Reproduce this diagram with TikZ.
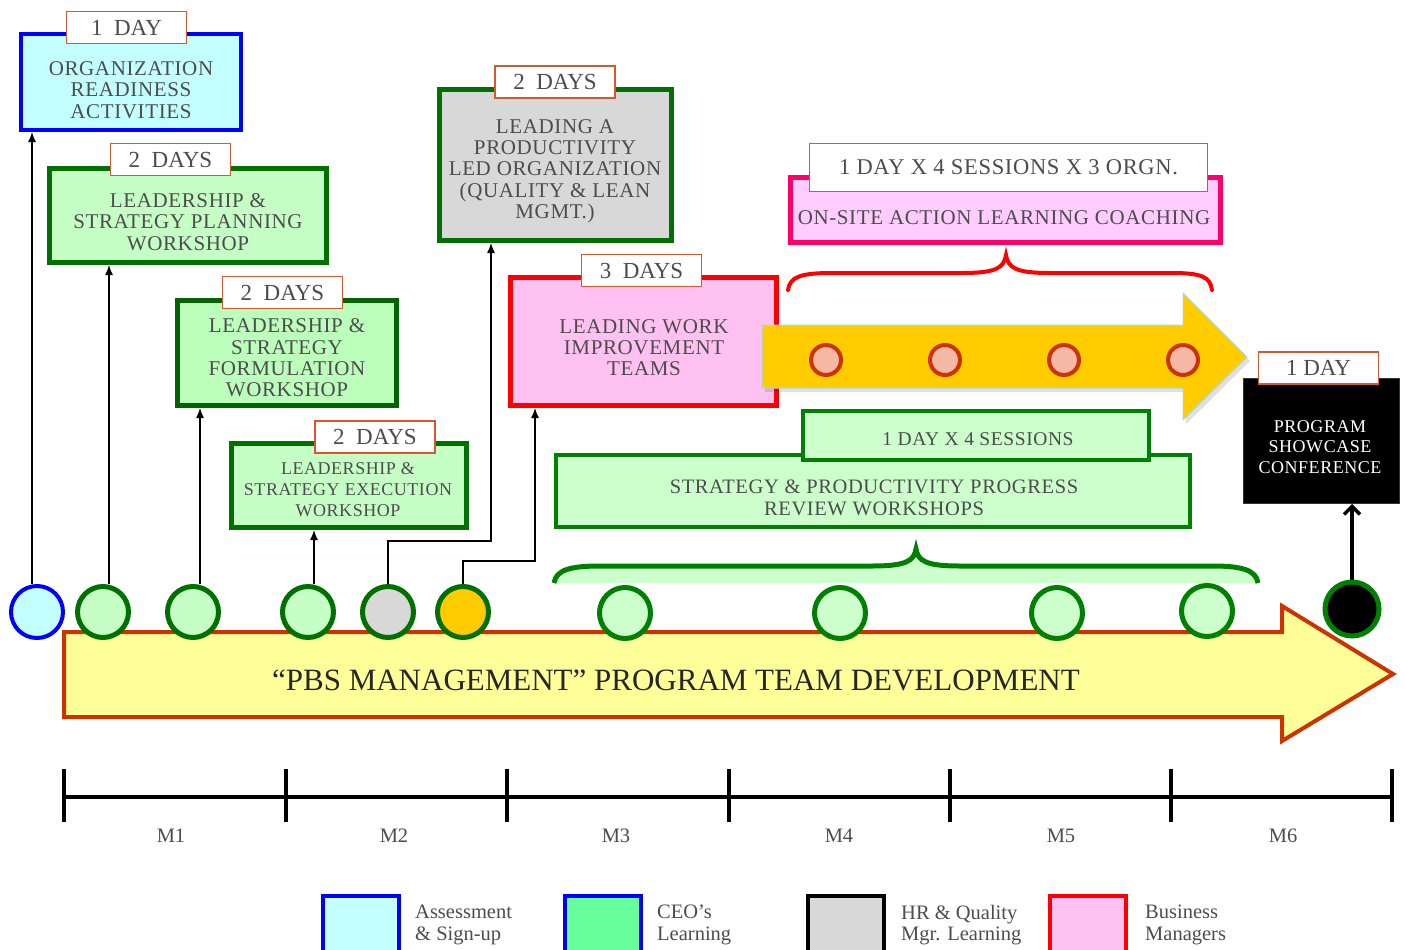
\documentclass[tikz,border=0pt]{standalone}
\usepackage{fontspec}
\setmainfont{Liberation Serif}
\newfontfamily\capsfont[LetterSpace=3]{Liberation Serif}
\usetikzlibrary{arrows.meta}

\definecolor{ink}{HTML}{4C4C4C}
\definecolor{blueline}{HTML}{0000FF}
\definecolor{cyanfill}{HTML}{C4FFFF}
\definecolor{dkgreen}{HTML}{007000}
\definecolor{ltgreen}{HTML}{C6FFC6}
\definecolor{midgreen}{HTML}{008000}
\definecolor{palegreen}{HTML}{CCFFCC}
\definecolor{greyfill}{HTML}{D8D8D8}
\definecolor{pinkfill}{HTML}{FFC0F2}
\definecolor{coachline}{HTML}{FF0066}
\definecolor{coachfill}{HTML}{FFCCFF}
\definecolor{tagline}{HTML}{D9572E}
\definecolor{gold}{HTML}{FFCC00}
\definecolor{goldedge}{HTML}{A8D8E8}
\definecolor{rust}{HTML}{CC3300}
\definecolor{salmon}{HTML}{F4B8A4}
\definecolor{lemon}{HTML}{FFFF99}
\definecolor{mint}{HTML}{66FF99}

\begin{document}
\begin{tikzpicture}[x=1pt, y=-1pt,
  box/.style={rectangle, inner sep=0pt, line width=5pt, draw=dkgreen, fill=ltgreen},
  tag/.style={rectangle, draw=tagline, fill=white, line width=1.5pt,
    minimum width=120pt, minimum height=32pt, inner sep=0pt, text=ink,
    font=\fontsize{23}{24}\selectfont},
  btext/.style={inner sep=0pt, text=ink, align=center,
    font=\capsfont\fontsize{21}{21.3}\selectfont},
  dot/.style={circle, inner sep=0pt, line width=5pt, draw=dkgreen, fill=ltgreen,
    minimum size=51pt},
  session/.style={circle, inner sep=0pt, line width=4pt, draw=rust, fill=salmon,
    minimum size=30pt},
  conn/.style={line width=1.3pt, -{Latex[length=10pt,width=8pt]}},
  legbox/.style={rectangle, inner sep=0pt, line width=4pt,
    minimum width=76pt, minimum height=56pt},
  legtext/.style={anchor=west, inner sep=0pt, text=ink, align=left,
    font=\fontsize{20.5}{21.5}\selectfont},
  mlabel/.style={inner sep=0pt, text=ink, font=\fontsize{20.5}{22}\selectfont},
]
\useasboundingbox (0,0) rectangle (1405,950);
\clip (0,0) rectangle (1405,950);

% main program arrow
\draw[line width=4pt, draw=rust, fill=lemon, line join=miter]
  (64,632) -- (1282,632) -- (1282,606) -- (1393,674) -- (1282,741)
  -- (1282,717) -- (64,717) -- cycle;
\node[inner sep=0pt, text=black!85, font=\fontsize{31}{33}\selectfont] (prog)
  at (676,680) {“PBS MANAGEMENT” PROGRAM TEAM DEVELOPMENT};

% brace over the review sessions
\fill[palegreen] (554,583) .. controls (556,570) and (570,566) .. (600,566)
  -- (872,566) .. controls (906,566) and (914,561) .. (916,549)
  .. controls (918,561) and (926,566) .. (960,566) -- (1212,566)
  .. controls (1242,566) and (1256,570) .. (1258,583) -- cycle;
\draw[line width=5pt, midgreen] (554,583) .. controls (556,570) and (570,566) .. (600,566)
  -- (872,566) .. controls (906,566) and (914,561) .. (916,549)
  .. controls (918,561) and (926,566) .. (960,566) -- (1212,566)
  .. controls (1242,566) and (1256,570) .. (1258,583);

% review workshops
\node[box, line width=4pt, draw=midgreen, fill=palegreen, minimum width=634pt,
  minimum height=72pt] (b8) at (873,491) {};
\node[btext, font=\capsfont\fontsize{20.5}{22}\selectfont] (b8txt) at (874,498)
  {STRATEGY \& PRODUCTIVITY PROGRESS\\REVIEW WORKSHOPS};
\node[box, line width=4pt, draw=midgreen, fill=palegreen, minimum width=346pt,
  minimum height=49pt] (b8t) at (976,435.5) {};
\node[btext, font=\capsfont\fontsize{19.5}{21}\selectfont] (b8ttxt) at (978,439)
  {1 DAY X 4 SESSIONS};

% on-site coaching
\node[box, draw=coachline, fill=coachfill, minimum width=430pt, minimum height=65pt]
  (b7) at (1005.5,210) {};
\node[btext] (b7txt) at (1004,218) {ON-SITE ACTION LEARNING COACHING};
\node[tag, minimum width=398pt, minimum height=48pt,
  font=\capsfont\fontsize{22.5}{24}\selectfont] (t7) at (1008.5,167.5)
  {1 DAY X 4 SESSIONS X 3 ORGN.\hspace{18pt}};
\draw[line width=4pt, red, line cap=round]
  (788,290) .. controls (790,277) and (800,273) .. (832,273)
  -- (962,273) .. controls (996,273) and (1004,268) .. (1006,255)
  .. controls (1008,268) and (1016,273) .. (1050,273) -- (1172,273)
  .. controls (1202,273) and (1210,277) .. (1212,290);

% work improvement teams
\node[box, draw=red, fill=pinkfill, minimum width=266pt, minimum height=128pt]
  (b6) at (643.5,341.5) {};
\node[btext] (b6txt) at (644,347.5) {LEADING WORK\\IMPROVEMENT\\TEAMS};
\node[tag] (t6) at (641.5,270.5) {3~~DAYS};

% coaching sessions arrow
\fill[black, opacity=0.12] (765,329) -- (1186,329) -- (1186,297) -- (1250,361)
  -- (1186,424) -- (1186,392) -- (765,392) -- cycle;
\draw[line width=1pt, draw=goldedge, fill=gold]
  (762,325) -- (1183,325) -- (1183,293) -- (1247,357) -- (1183,420)
  -- (1183,388) -- (762,388) -- cycle;
\foreach \i/\x in {1/826, 2/945, 3/1064, 4/1183}
  \node[session] (s\i) at (\x,360) {};

% workshops
\node[box, draw=blueline, fill=cyanfill, line width=4pt, minimum width=220pt,
  minimum height=96pt] (b1) at (131,82) {};
\node[btext] (b1txt) at (131,90) {ORGANIZATION\\READINESS\\ACTIVITIES};
\node[tag] (t1) at (126.5,27.5) {1~~DAY};

\node[box, minimum width=277pt, minimum height=94pt] (b2) at (188,215.5) {};
\node[btext] (b2txt) at (188,222) {LEADERSHIP \&\\STRATEGY PLANNING\\WORKSHOP};
\node[tag] (t2) at (170.5,159.5) {2~~DAYS};

\node[box, draw=dkgreen!90!black, fill=ltgreen!95!green, minimum width=219pt,
  minimum height=105pt] (b3) at (287,353) {};
\node[btext] (b3txt) at (287,358) {LEADERSHIP \&\\STRATEGY\\FORMULATION\\WORKSHOP};
\node[tag] (t3) at (282.5,292.5) {2~~DAYS};

\node[box, minimum width=235pt, minimum height=84pt] (b4) at (349,485.5) {};
\node[btext, font=\capsfont\fontsize{18}{21}\selectfont] (b4txt) at (348,490)
  {LEADERSHIP \&\\STRATEGY EXECUTION\\WORKSHOP};
\node[tag] (t4) at (375,437) {2~~DAYS};

\node[box, fill=greyfill, minimum width=232pt, minimum height=151pt] (b5) at (555.5,165) {};
\node[btext] (b5txt) at (555,171)
  {LEADING A\\PRODUCTIVITY\\LED ORGANIZATION\\(QUALITY \& LEAN\\MGMT.)};
\node[tag] (t5) at (555,82) {2~~DAYS};

% showcase conference
\node[rectangle, inner sep=0pt, line width=1pt, draw=black!80, fill=black,
  minimum width=156pt, minimum height=125pt] (b9) at (1321.5,441) {};
\node[btext, text=white, font=\capsfont\fontsize{18}{20.8}\selectfont] (b9txt)
  at (1320,447) {PROGRAM\\SHOWCASE\\CONFERENCE};
\node[tag] (t9) at (1318.5,368) {1 DAY};

% milestones
\node[dot, draw=blueline, fill=cyanfill, line width=4pt, minimum size=52pt] (c1) at (37,612) {};
\node[dot] (c2) at (103,612) {};
\node[dot] (c3) at (193,612) {};
\node[dot] (c4) at (308,612) {};
\node[dot, fill=greyfill] (c5) at (388,612) {};
\node[dot, fill=gold] (c6) at (463,612) {};
\node[dot, draw=midgreen, fill=palegreen] (c7) at (625,613) {};
\node[dot, draw=midgreen, fill=palegreen] (c8) at (840,613) {};
\node[dot, draw=midgreen, fill=palegreen] (c9) at (1057,613) {};
\node[dot, draw=midgreen, fill=palegreen] (c10) at (1207,611) {};
\node[dot, draw=midgreen, fill=black, minimum size=54pt] (c11) at (1352,609) {};

% connectors
\draw[conn] ([xshift=-5pt]c1.north) -- ([xshift=-5pt]c1.north |- b1.south);
\draw[conn] ([xshift=6pt]c2.north) -- ([xshift=6pt]c2.north |- b2.south);
\draw[conn] ([xshift=7pt]c3.north) -- ([xshift=7pt]c3.north |- b3.south);
\draw[conn] ([xshift=6pt]c4.north) -- ([xshift=6pt]c4.north |- b4.south);
\draw[conn] (c5.north) -- ++(0,-43) -| ([xshift=54pt]b5.south west);
\draw[conn] (c6.north) -- ++(0,-23) -| ([xshift=27pt]b6.south west);
\draw[line width=3.5pt, -{Straight Barb[length=8pt,width=16pt]}]
  (c11.north) -- (c11.north |- b9.south);

% month scale
\draw[line width=4.5pt] (64,797) -- (1392,797);
\foreach \x in {64,286,507,729,950,1171,1392}
  \draw[line width=4pt] (\x,769) -- (\x,822);
\foreach \i/\x in {1/171, 2/394, 3/616, 4/839, 5/1061, 6/1283}
  \node[mlabel] (m\i) at (\x,836) {M\i};

% legend
\node[legbox, draw=blueline, fill=cyanfill] (l1) at (361,924) {};
\node[legtext] (l1txt) at (415,925) {Assessment\\\& Sign-up};
\node[legbox, draw=blueline, fill=mint] (l2) at (602.5,924) {};
\node[legtext] (l2txt) at (657,925) {CEO’s\\Learning};
\node[legbox, draw=black, fill=greyfill] (l3) at (845.5,924) {};
\node[legtext] (l3txt) at (901,925) {HR \& Quality\\Mgr. Learning};
\node[legbox, draw=red, fill=pinkfill] (l4) at (1088,924) {};
\node[legtext] (l4txt) at (1145,925) {Business\\Managers};
\end{tikzpicture}
\end{document}
